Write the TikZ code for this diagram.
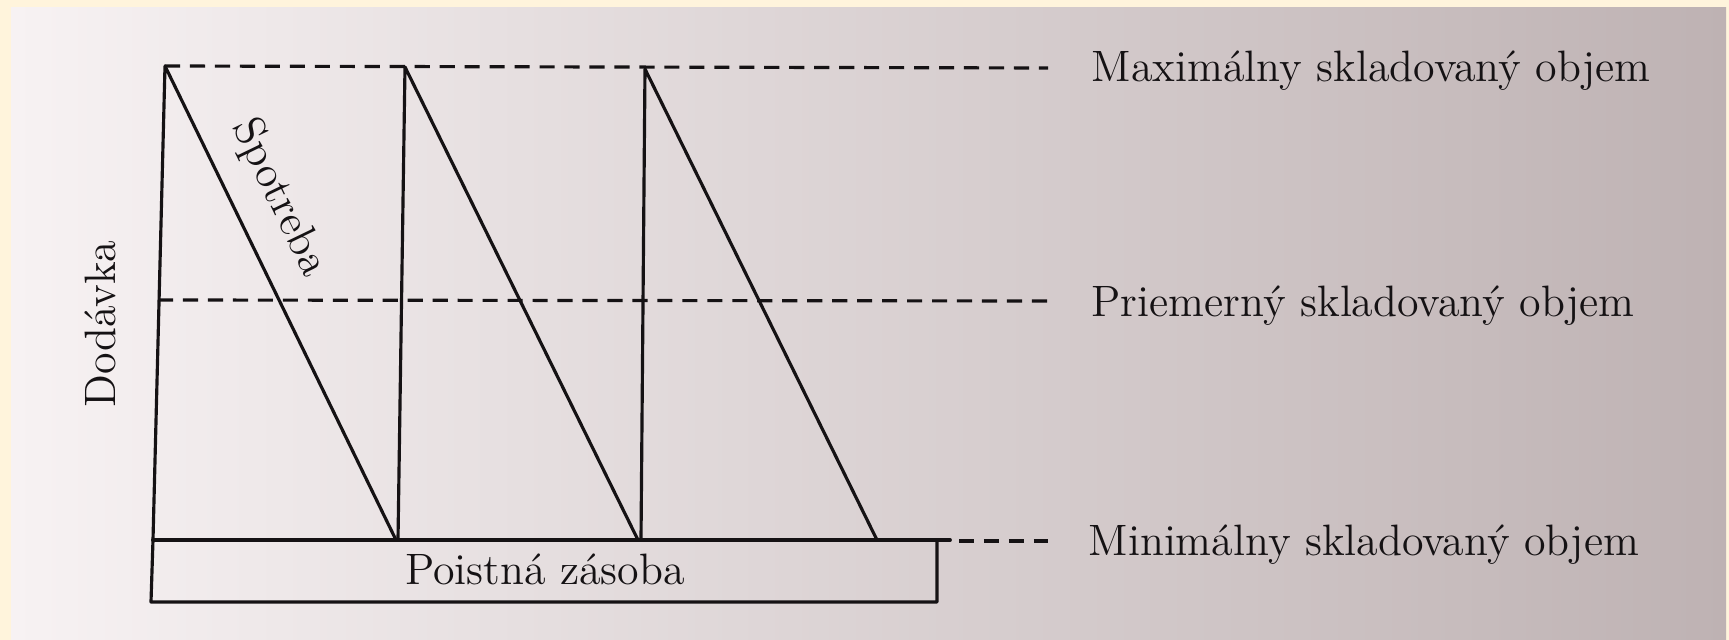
\documentclass[tikz,border=0pt]{standalone}
\usepackage{fontspec}
\definecolor{cream}{HTML}{FFF4DC}
\definecolor{paperL}{HTML}{F7F2F3}
\definecolor{paperM}{HTML}{E5DEDE}
\definecolor{paperR}{HTML}{BEB2B3}
\definecolor{ink}{HTML}{151214}
\begin{document}
\begin{tikzpicture}[x=0.01cm,y=-0.01cm,
  solid line/.style={draw=ink,line width=0.9pt,line cap=round,line join=round},
  level line/.style={draw=ink,line width=0.9pt,dash pattern=on 4.3pt off 2.8pt},
  lbl/.style={inner sep=0pt,text=ink,font=\fontsize{12.5}{14}\selectfont}]
\useasboundingbox (0,0) rectangle (1729,640);
\fill[cream] (0,0) rectangle (1729,640);
\shade[left color=paperL,middle color=paperM,right color=paperR] (11,8) rectangle (1726,640);
% key points
\coordinate (p1) at (165,66);
\coordinate (p2) at (405,67);
\coordinate (p3) at (645,69);
\coordinate (b1) at (153,540);
\coordinate (b2) at (398,540);
\coordinate (b3) at (641,540);
\coordinate (d1) at (396,540);
\coordinate (d2) at (638,540);
\coordinate (d3) at (877,540);
\coordinate (maxend) at (1048,68);
\coordinate (midstart) at (158,300);
\coordinate (midend) at (1048,301);
\coordinate (boxtr) at (950,540);
\coordinate (minstart) at (959,541);
\coordinate (minend) at (1048,541);
% safety stock box
\draw[solid line] (b1) -- (151,602) -- (937,602) -- (937,540);
\draw[solid line,line width=1.1pt] (b1) -- (boxtr);
\node[lbl,anchor=base] (ps) at (545,585) {Poistná zásoba};
% saw-tooth
\draw[solid line] (b1) -- (p1) -- (d1);
\draw[solid line] (b2) -- (p2) -- (d2);
\draw[solid line] (b3) -- (p3) -- (d3);
% level lines
\draw[level line] (p1) -- (maxend);
\draw[level line] (midstart) -- (midend);
\draw[level line] (minstart) -- (minend);
% labels
\node[lbl,anchor=base west] (max) at (1091,82) {Maximálny skladovaný objem};
\node[lbl,anchor=base west] (avg) at (1091,317) {Priemerný skladovaný objem};
\node[lbl,anchor=base west] (min) at (1088,556) {Minimálny skladovaný objem};
\node[lbl,rotate=90,anchor=base] (dod) at (115,324) {Dodávka};
\node[lbl,rotate=-64.2] (spo) at (279,198) {Spotreba};
\end{tikzpicture}
\end{document}
